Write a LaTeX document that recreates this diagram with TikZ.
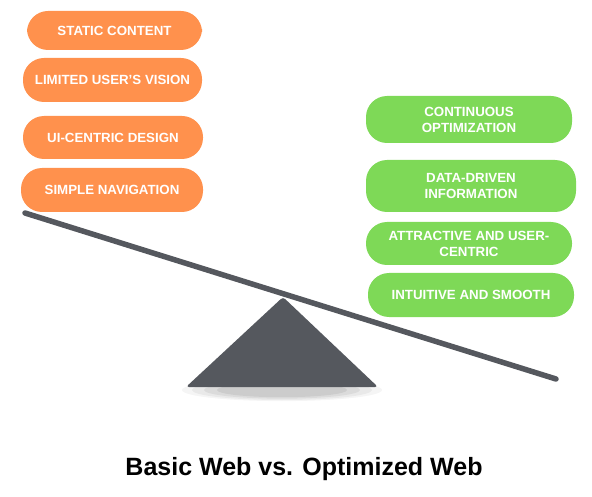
\documentclass[tikz,border=0pt]{standalone}
\usepackage{fontspec}
\setmainfont{Liberation Sans}
\usepackage{xcolor}
\usepackage{tikz}

\definecolor{pillOrange}{HTML}{FF914D}
\definecolor{pillGreen}{HTML}{7ED957}
\definecolor{beamGray}{HTML}{55585E}

\begin{document}
\begin{tikzpicture}[x=1pt,y=-1pt,
pill/.style={rounded corners=21pt,align=center,text=white,font=\fontsize{13.3}{16}\selectfont\bfseries,inner sep=0pt},
basic/.style={pill,fill=pillOrange},
optimized/.style={pill,fill=pillGreen}]
\useasboundingbox (0,0) rectangle (592,497);

% left side
\node[basic,minimum width=175pt,minimum height=39pt] (static) at (114.5,30.5) {STATIC CONTENT};
\node[basic,minimum width=179pt,minimum height=44pt] (limited) at (112.5,80) {LIMITED USER'S VISION};
\node[basic,minimum width=180pt,minimum height=43pt] (uicentric) at (113,137.5) {UI-CENTRIC DESIGN};
\node[basic,minimum width=182pt,minimum height=44pt] (simple) at (112,190) {SIMPLE NAVIGATION};

% right side
\node[optimized,minimum width=206pt,minimum height=47pt] (continuous) at (469,119.5) {CONTINUOUS\\OPTIMIZATION};
\node[optimized,minimum width=210pt,minimum height=52pt] (datadriven) at (471,186) {DATA-DRIVEN\\INFORMATION};
\node[optimized,minimum width=206pt,minimum height=43pt] (attractive) at (469,243.5) {ATTRACTIVE AND USER-\\CENTRIC};
\node[optimized,minimum width=206pt,minimum height=44pt] (intuitive) at (471,295) {INTUITIVE AND SMOOTH};

% shadow under the pivot
\foreach \r/\o in {100/0.04,90/0.05,78/0.06,65/0.07}
  \fill[black,opacity=\o] (282,390) ellipse ({\r pt} and {\r/9 pt});

% pivot and beam
\fill[beamGray,rounded corners=3pt] (283,297) -- (378,387) -- (186,387) -- cycle;
\draw[beamGray,line width=5.5pt,line cap=round] (25,213) -- (556,379);

% caption
\node[font=\fontsize{25}{29}\selectfont\bfseries] (caption) at (304,469) {Basic Web vs. Optimized Web};
\end{tikzpicture}
\end{document}
